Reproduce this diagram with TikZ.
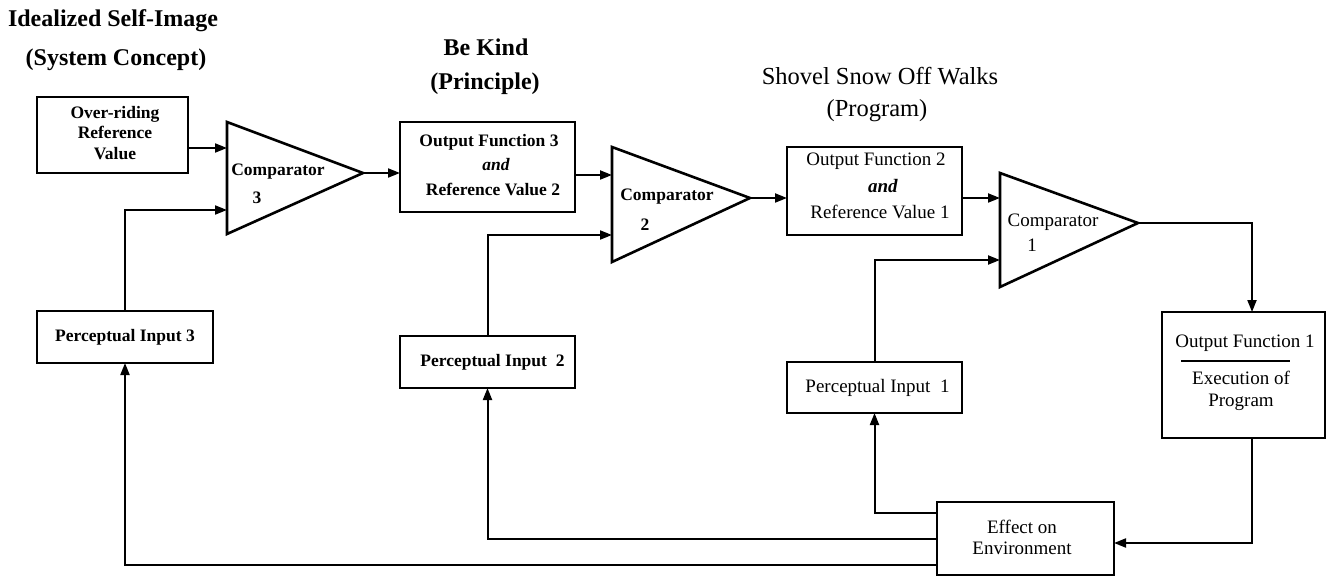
\documentclass[tikz,border=0pt]{standalone}
\usepackage{fontspec}
\setmainfont{Liberation Serif}
\usetikzlibrary{arrows.meta}

\begin{document}
\begin{tikzpicture}[x=1pt,y=-1pt,
  every node/.style={inner sep=0pt,outer sep=0pt},
  box/.style={draw,line width=2.5pt},
  tri/.style={draw,line width=2.6pt,line join=miter},
  link/.style={line width=2pt},
  arr/.style={link,-{Triangle[length=12pt,width=9pt]}},
  ttlb/.style={font=\fontsize{24}{28}\selectfont\bfseries,anchor=base},
  ttlr/.style={font=\fontsize{24.5}{28}\selectfont,anchor=base},
  lblb/.style={font=\fontsize{17.5}{20.5}\selectfont\bfseries,align=center},
  lblr/.style={font=\fontsize{19}{22}\selectfont,align=center},
]
\useasboundingbox (0,0) rectangle (1327,577);

% level headings
\node[ttlb] (h3a) at (113,27) {Idealized Self-Image};
\node[ttlb] (h3b) at (116,66) {(System Concept)};
\node[ttlb] (h2a) at (486,56) {Be Kind};
\node[ttlb] (h2b) at (485,90) {(Principle)};
\node[ttlr] (h1a) at (880,85) {Shovel Snow Off Walks};
\node[ttlr] (h1b) at (877,117) {(Program)};

% boxes
\node[box,minimum width=151pt,minimum height=76pt] (orv) at (112.5,135) {};
\node[lblb,font=\fontsize{17.5}{20.5}\selectfont\bfseries] (orvt) at (115,133) {Over-riding\\Reference\\Value};

\node[box,minimum width=175pt,minimum height=90pt] (of3) at (487.5,167) {};
\node[lblb,font=\fontsize{17.5}{24.5}\selectfont\bfseries] (of3t) at (489,165)
  {Output Function 3\\\hspace*{14pt}\textit{and}\\\hspace*{8pt}Reference Value 2};

\node[box,minimum width=175pt,minimum height=88pt] (of2) at (874.5,191) {};
\node[lblr,font=\fontsize{19}{26.5}\selectfont] (of2t) at (876,186)
  {Output Function 2\\\hspace*{14pt}\textbf{\textit{and}}\\\hspace*{8pt}Reference Value 1};

\node[box,minimum width=163pt,minimum height=126pt] (of1) at (1243.5,375) {};
\node[lblr] (of1a) at (1245,343) {Output Function 1};
\node[lblr,font=\fontsize{19}{22}\selectfont] (of1b) at (1241,391) {Execution of\\Program};
\draw[line width=1.8pt] (of1a.south west |- 0,361) ++(6,0) coordinate (rl) -- (rl -| 1290,0);

\node[box,minimum width=176pt,minimum height=52pt,lblb] (pi3) at (125,337) {Perceptual Input 3};
\node[box,minimum width=175pt,minimum height=52pt,lblb] (pi2) at (487.5,362) {\hspace*{10pt}Perceptual Input\ \ 2};
\node[box,minimum width=175pt,minimum height=51pt,lblr] (pi1) at (874.5,387.5) {\hspace*{6pt}Perceptual Input\ \ 1};

\node[box,minimum width=177pt,minimum height=73pt] (eff) at (1025.5,538.5) {};
\node[lblr,font=\fontsize{19}{21}\selectfont] (efft) at (1022,537) {Effect on\\Environment};

% comparators
\draw[tri] (227,122) -- (363,173) -- (227,234) -- cycle;
\coordinate (c3a) at (227,148);
\coordinate (c3b) at (227,210);
\coordinate (c3o) at (363,173);
\node[lblb] (c3t) at (278,172) {Comparator};
\node[lblb] (c3n) at (257,198) {3};

\draw[tri] (612,147) -- (750,198) -- (612,262) -- cycle;
\coordinate (c2a) at (612,175);
\coordinate (c2b) at (612,235);
\coordinate (c2o) at (750,198);
\node[lblb] (c2t) at (667,197) {Comparator};
\node[lblb] (c2n) at (645,225) {2};

\draw[tri] (1000,173) -- (1138,223) -- (1000,287) -- cycle;
\coordinate (c1a) at (1000,198);
\coordinate (c1b) at (1000,260);
\coordinate (c1o) at (1138,223);
\node[lblr] (c1t) at (1053,222) {Comparator};
\node[lblr] (c1n) at (1032,245) {1};

% routing helpers
\coordinate (drop) at (1252,0);
\coordinate (fbo) at (0,543);
\coordinate (fb1) at (0,513);
\coordinate (fb2) at (0,539);
\coordinate (fb3) at (0,565);

% forward path
\draw[arr] (orv.east |- c3a) -- (c3a);
\draw[arr] (pi3.north) |- (c3b);
\draw[arr] (c3o) -- (c3o -| of3.west);
\draw[arr] (of3.east |- c2a) -- (c2a);
\draw[arr] (pi2.north) |- (c2b);
\draw[arr] (c2o) -- (c2o -| of2.west);
\draw[arr] (of2.east |- c1a) -- (c1a);
\draw[arr] (pi1.north) |- (c1b);
\draw[arr] (c1o) -| (of1.north -| drop);

% feedback through the environment
\draw[arr] (of1.south -| drop) |- (eff.east |- fbo);
\draw[arr] (eff.west |- fb1) -| (pi1.south);
\draw[arr] (eff.west |- fb2) -| (pi2.south);
\draw[arr] (eff.west |- fb3) -| (pi3.south);
\end{tikzpicture}
\end{document}
